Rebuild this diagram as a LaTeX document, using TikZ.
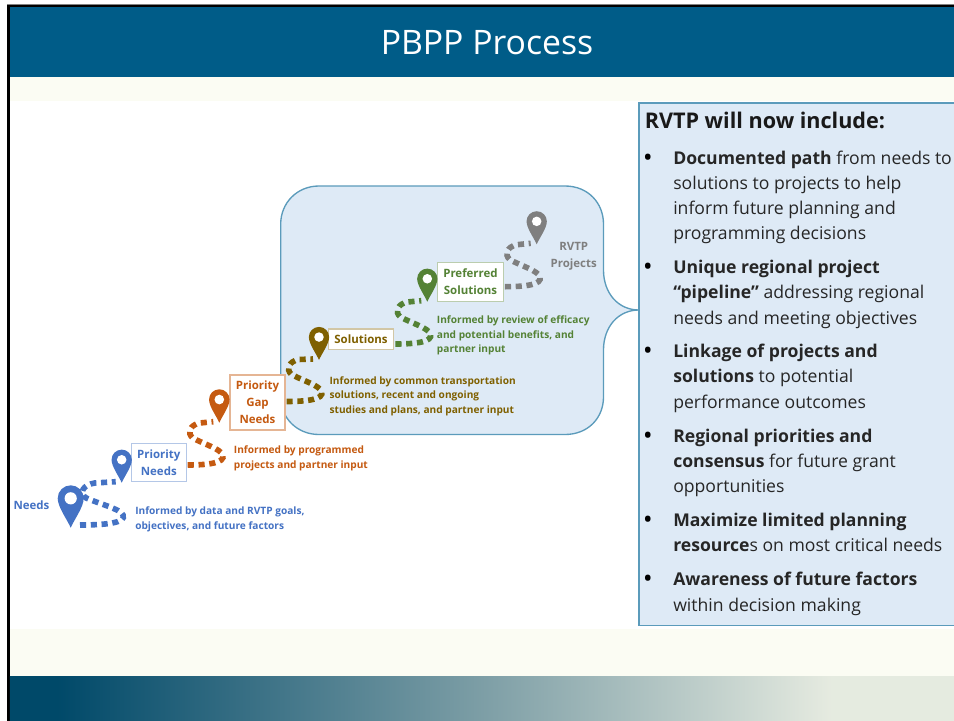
\documentclass[tikz,border=0pt]{standalone}
\usepackage{fontspec}
\setmainfont{Open Sans}
\usetikzlibrary{calc}
\definecolor{titleblue}{HTML}{005C88}
\definecolor{cream}{HTML}{FBFCF3}
\definecolor{panelfill}{HTML}{DEEAF6}
\definecolor{panelline}{HTML}{5B9BBB}
\definecolor{cblue}{HTML}{4472C4}
\definecolor{corange}{HTML}{C55A11}
\definecolor{colive}{HTML}{7F6000}
\definecolor{cgreen}{HTML}{548235}
\definecolor{cgray}{HTML}{7F7F7F}
\pgfdeclarehorizontalshading{footerfade}{100bp}{
  rgb(0bp)=(0,0.286,0.412); rgb(27.5bp)=(0,0.286,0.412);
  rgb(50bp)=(0.49,0.62,0.65);
  rgb(68.5bp)=(0.90,0.92,0.878); rgb(100bp)=(0.90,0.92,0.878)}
\tikzset{
  x=0.75pt,y=-0.75pt,
  pics/mappin/.style={code={
    \fill[#1] (0,0) .. controls (-.14,-.32) and (-.5,-.8) .. (-.5,-1.13)
      .. controls (-.5,-1.406) and (-.276,-1.63) .. (0,-1.63)
      .. controls (.276,-1.63) and (.5,-1.406) .. (.5,-1.13)
      .. controls (.5,-.8) and (.14,-.32) .. (0,0) -- cycle;
    \fill[white] (0,-1.13) circle[radius=.235];
  }},
  roadline/.style={line width=4.2pt,dash pattern=on 4.6pt off 3.5pt},
  stagebox/.style={draw=#1,line width=.9pt,fill=white,inner sep=0pt,align=center,
    font=\fontsize{8.6}{12.7}\selectfont\bfseries},
  stagetext/.style={font=\fontsize{8.6}{12.7}\selectfont\bfseries,inner sep=0pt,align=center},
  infotext/.style={font=\fontsize{7.6}{11}\selectfont\bfseries,inner sep=0pt,anchor=base west,align=left},
  panelhead/.style={font=\fontsize{16.2}{18}\selectfont\bfseries,inner sep=0pt,anchor=base west,text=black!90},
  paneltext/.style={font=\fontsize{13.2}{18}\selectfont,inner sep=0pt,anchor=base west,text=black!85},
  bulletmark/.style={font=\fontsize{15}{18}\selectfont\bfseries,inner sep=0pt,anchor=base,text=black},
}
% #1 start point, #2 pin tip, #3 colour, #4 horizontal stretch
\newcommand{\roadway}[4]{%
  \coordinate (rs) at #1;
  \draw[roadline,draw=#3] (rs)
    .. controls ($(rs)+({#4*20},0)$) and ($(rs)+({#4*38},-2)$) .. ($(rs)+({#4*35},-10)$)
    .. controls ($(rs)+({#4*33},-16)$) and ($(rs)+({#4*16},-21)$) .. ($(rs)+({#4*5},-27)$)
    .. controls ($(rs)+({#4*-1},-32)$) and ($(rs)+({#4*2},-40)$) .. ($(rs)+({#4*12},-42)$)
    -- ($#2+(-6,-1)$);
}
\newcommand{\plin}[3]{\node[paneltext] (#1) at (673,#2) {#3};}
\newcommand{\bull}[2]{\node[bulletmark] (#1) at (648,#2) {•};}
\begin{document}
\begin{tikzpicture}
\useasboundingbox (0,0) rectangle (954,721);
\fill[white] (0,0) rectangle (954,721);
% slide background
\fill[cream] (9,77) rectangle (954,676);
\fill[white] (9,100.5) rectangle (954,629);
\fill[titleblue] (9,7) rectangle (954,77);
\fill[black] (7.3,5) rectangle (954,7.4);
\fill[black] (7.3,5) rectangle (9.8,721);
\fill[gray] (7.3,4.3) rectangle (954,5);
\shade[shading=footerfade] (9.8,676) rectangle (954,721);
\node[inner sep=0pt,text=white,font=\fontsize{25.3}{28}\selectfont] (title) at (487,42.5) {PBPP Process};
% callout
\path[fill=panelfill,draw=panelline,line width=1pt]
  (319,186) -- (565,186)
  .. controls (588,186) and (603.5,203) .. (603.5,224)
  -- (603.5,270)
  .. controls (603.5,293) and (618,310) .. (639,310)
  .. controls (618,310) and (603.5,327) .. (603.5,350)
  -- (603.5,397)
  .. controls (603.5,418) and (588,434.5) .. (565,434.5)
  -- (319,434.5)
  .. controls (297,434.5) and (280.7,418) .. (280.7,397)
  -- (280.7,224)
  .. controls (280.7,203) and (297,186) .. (319,186) -- cycle;
% panel
\path[fill=panelfill,draw=panelline,line width=1pt] (639,103) rectangle (970,625.5);
\node[panelhead] (head) at (644.5,128.5) {RVTP will now include:};
\bull{b1}{164}
\plin{l1}{164}{\textbf{Documented path} from needs to}
\plin{l2}{189.3}{solutions to projects to help}
\plin{l3}{214}{inform future planning and}
\plin{l4}{239.3}{programming decisions}
\bull{b2}{273.3}
\plin{l5}{273.3}{\textbf{Unique regional project}}
\plin{l6}{298.3}{\textbf{“pipeline”} addressing regional}
\plin{l7}{324}{needs and meeting objectives}
\bull{b3}{357.3}
\plin{l8}{357.3}{\textbf{Linkage of projects and}}
\plin{l9}{382.7}{\textbf{solutions} to potential}
\plin{l10}{408.3}{performance outcomes}
\bull{b4}{442.3}
\plin{l11}{442.3}{\textbf{Regional priorities and}}
\plin{l12}{467.3}{\textbf{consensus} for future grant}
\plin{l13}{492.7}{opportunities}
\bull{b5}{526.7}
\plin{l14}{526.7}{\textbf{Maximize limited planning}}
\plin{l15}{551.7}{\textbf{resource}s on most critical needs}
\bull{b6}{585.7}
\plin{l16}{585.7}{\textbf{Awareness of future factors}}
\plin{l17}{611}{within decision making}
% pin tips
\coordinate (tipa) at (70.7,527.7);
\coordinate (tipb) at (121.7,482.7);
\coordinate (tipc) at (219.3,422.7);
\coordinate (tipd) at (319,360);
\coordinate (tipe) at (427.3,301.7);
\coordinate (tipf) at (536.7,244.3);
% stage labels
\node[stagetext,text=cblue] (needs) at (31.5,505) {Needs};
\node[stagebox=cblue!40,text=cblue,minimum width=41pt,minimum height=28.8pt] (pn) at (158.8,462.5) {Priority\\Needs};
\node[stagebox=corange!45,text=corange,minimum width=41.2pt,minimum height=41.2pt] (pg) at (257.5,402.5) {Priority\\Gap\\Needs};
\node[stagebox=colive!35,text=colive,minimum width=49.2pt,minimum height=15.4pt] (so) at (361,339.2) {Solutions};
\node[stagebox=cgreen!40,text=cgreen,minimum width=49.2pt,minimum height=28.7pt] (ps) at (470.5,282) {Preferred\\Solutions};
\node[stagetext,text=cgray] (rp) at (573.7,256) {RVTP\\Projects};
% connectors
\roadway{(80,525)}{(tipb)}{cblue}{1.23}
\roadway{($(pn.east)+(1,2.5)$)}{(tipc)}{corange}{1}
\roadway{($(pg.east)+(1,-1)$)}{(tipd)}{colive}{1}
\roadway{($(so.east)+(1,4.8)$)}{(tipe)}{cgreen}{1}
\roadway{($(ps.east)+(1,4.7)$)}{(tipf)}{cgray}{1}
% pins
\pic[scale=26] at (tipa) {mappin=cblue};
\pic[scale=20.3] at (tipb) {mappin=cblue};
\pic[scale=20.5] at (tipc) {mappin=corange};
\pic[scale=20.3] at (tipd) {mappin=colive};
\pic[scale=20.3] at (tipe) {mappin=cgreen};
\pic[scale=20.3] at (tipf) {mappin=cgray};
% informed-by texts (anchored on last baseline)
\node[infotext,text=cblue] (ia) at (135,529.5) {Informed by data and RVTP goals,\\objectives, and future factors};
\node[infotext,text=corange] (ib) at (233.7,468) {Informed by programmed\\projects and partner input};
\node[infotext,text=colive] (ic) at (329.3,413.4) {Informed by common transportation\\solutions, recent and ongoing\\studies and plans, and partner input};
\node[infotext,text=cgreen] (id) at (436.7,352.7) {Informed by review of efficacy\\and potential benefits, and\\partner input};
\end{tikzpicture}
\end{document}
